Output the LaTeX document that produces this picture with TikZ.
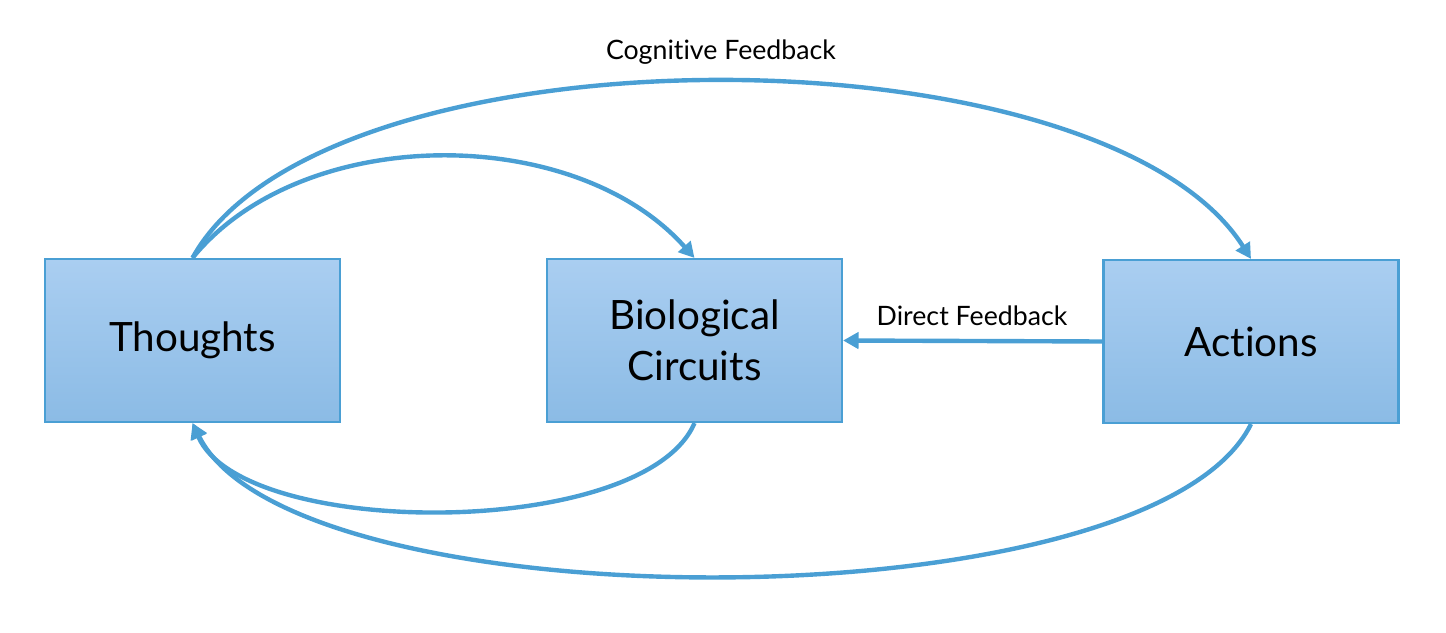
\documentclass[tikz,border=0pt]{standalone}
\usepackage{fontspec}
\setmainfont{Lato}[Ligatures=NoCommon]
\usepackage{tikz}
\usetikzlibrary{arrows.meta,positioning}
\definecolor{fbline}{RGB}{74,159,212}
\definecolor{boxtop}{RGB}{170,206,241}
\definecolor{boxbot}{RGB}{139,187,229}
\tikzset{
  box/.style={draw=fbline, line width=0.6pt, top color=boxtop, bottom color=boxbot, minimum width=2.95cm, minimum height=1.63cm,
              align=center, font=\fontsize{11.5}{14.5}\selectfont, inner sep=0pt},
  fb/.style={-{Triangle[length=4.4pt,width=4.6pt]}, draw=fbline, line width=1.25pt},
  fbl/.style={font=\fontsize{7.6}{9}\selectfont, inner sep=1pt}
}

\begin{document}
\begin{tikzpicture}
\useasboundingbox (0,0) rectangle (14.46,6.32);
\node[box] (thoughts) at (1.925,2.915) {Thoughts};
\node[box] (bio) at (6.945,2.915) {Biological\\Circuits};
\node[box] (actions) at (12.51,2.905) {Actions};

\draw[fb] (thoughts.north) .. controls +(1.3,2.36) and +(-1.5,2.36) .. (actions.north);
\draw[fb] (thoughts.north) .. controls +(1.1,1.35) and +(-1.2,1.35) .. (bio.north);
\draw[fb] (bio.south) .. controls +(-0.5,-1.17) and +(0.5,-1.17) .. (thoughts.south);
\draw[fb] (actions.south) .. controls +(-1,-2.03) and +(1,-2.03) .. (thoughts.south);
\draw[fb] (actions.west) -- (bio.east);

\node[fbl] (cogfb) at (7.21,5.80) {Cognitive Feedback};
\node[fbl] (dirfb) at (9.72,3.16) {Direct Feedback};
\end{tikzpicture}
\end{document}
